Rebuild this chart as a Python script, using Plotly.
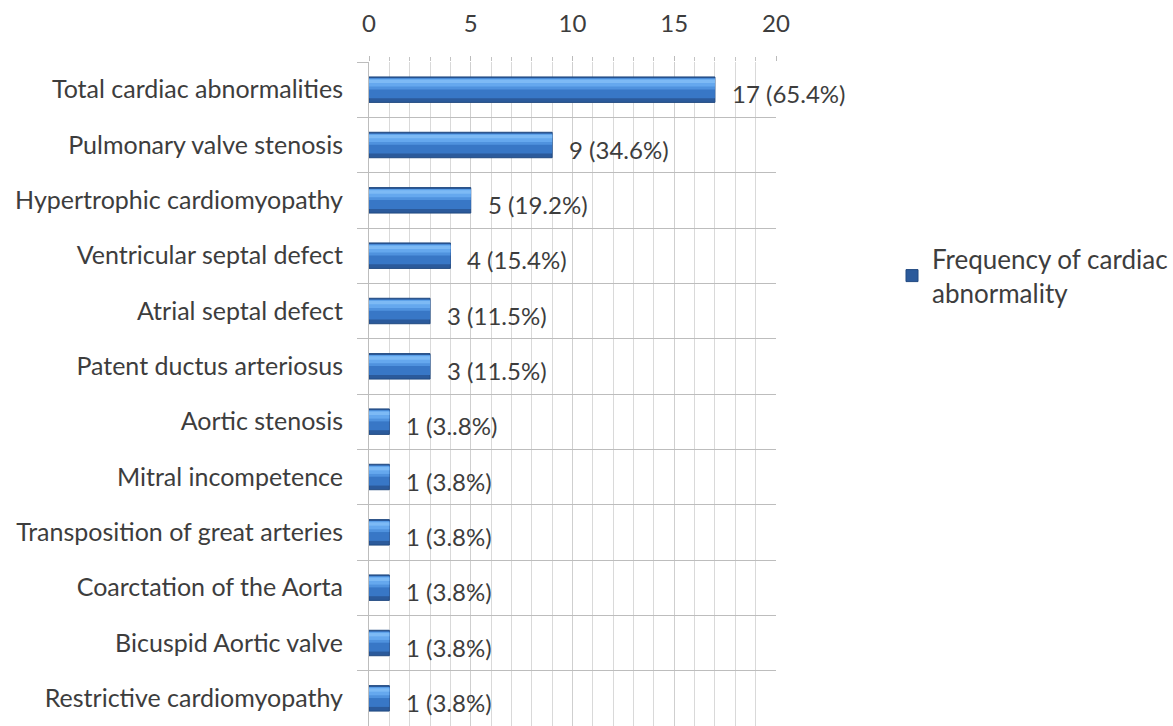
import plotly.graph_objects as go

categories = [
    "Total cardiac abnormalities",
    "Pulmonary valve stenosis",
    "Hypertrophic cardiomyopathy",
    "Ventricular septal defect",
    "Atrial septal defect",
    "Patent ductus arteriosus",
    "Aortic stenosis",
    "Mitral incompetence",
    "Transposition of great arteries",
    "Coarctation of the Aorta",
    "Bicuspid Aortic valve",
    "Restrictive cardiomyopathy",
]
values = [17, 9, 5, 4, 3, 3, 1, 1, 1, 1, 1, 1]
labels = ["17 (65.4%)", "9 (34.6%)", "5 (19.2%)", "4 (15.4%)", "3 (11.5%)",
          "3 (11.5%)", "1 (3..8%)", "1 (3.8%)", "1 (3.8%)", "1 (3.8%)",
          "1 (3.8%)", "1 (3.8%)"]
series_name = "Frequency of cardiac<br>abnormality"
x_ticks = [0, 5, 10, 15, 20]

FONT = "Lato, 'Open Sans', sans-serif"
TXT = "#3d3d3d"
FS = 25

fig = go.Figure()
fig.add_trace(go.Bar(
    y=categories, x=values, orientation="h", name=series_name,
    width=0.46, marker=dict(color="#2b5a9b", line=dict(color="#214980", width=1)),
    showlegend=True, hoverinfo="skip",
))
# shading layers to mimic the cylinder gradient (offset in category units)
for w, off, col in [(0.36, -0.205, "#3877c6"), (0.20, -0.205, "#4f92de"),
                    (0.14, -0.195, "#65a8ee"), (0.06, -0.18, "#7dbaf5")]:
    fig.add_trace(go.Bar(
        y=categories, x=values, orientation="h", showlegend=False,
        width=w, offset=off,
        marker=dict(color=col, line=dict(width=0)), hoverinfo="skip",
    ))

for c, v, t in zip(categories, values, labels):
    fig.add_annotation(x=v, y=c, text=t, showarrow=False, xanchor="left",
                       xshift=15, yshift=-4,
                       font=dict(family=FONT, size=24, color=TXT))

fig.update_layout(
    width=1173, height=726,
    margin=dict(l=369, r=396, t=62, b=0),
    barmode="overlay",
    plot_bgcolor="white", paper_bgcolor="white",
    font=dict(family=FONT, size=FS, color=TXT),
    legend=dict(x=1.285, y=0.678, xanchor="left", yanchor="middle",
                font=dict(family=FONT, size=26, color=TXT),
                itemwidth=30, bgcolor="rgba(0,0,0,0)"),
)
fig.update_xaxes(
    side="top", range=[0, 20], tickvals=x_ticks,
    showgrid=True, gridcolor="#cfcfcf", gridwidth=1,
    minor=dict(dtick=1, showgrid=True, gridcolor="#d9d9d9", gridwidth=1,
               ticks="outside", ticklen=4, tickcolor="#c4c4c4"),
    ticks="outside", ticklen=5, tickcolor="#bbbbbb",
    zeroline=False, showline=False,
    ticklabelstandoff=14,
    tickfont=dict(family=FONT, size=24, color=TXT),
)
fig.update_yaxes(
    type="category", autorange="reversed", tickson="boundaries",
    showgrid=True, gridcolor="#bdbdbd", gridwidth=1,
    ticks="outside", ticklen=11, tickcolor="#bdbdbd",
    showline=True, linecolor="#bdbdbd", linewidth=1,
    ticklabelstandoff=20,
    tickfont=dict(family=FONT, size=FS, color=TXT),
)

fig.write_html("out.html")
